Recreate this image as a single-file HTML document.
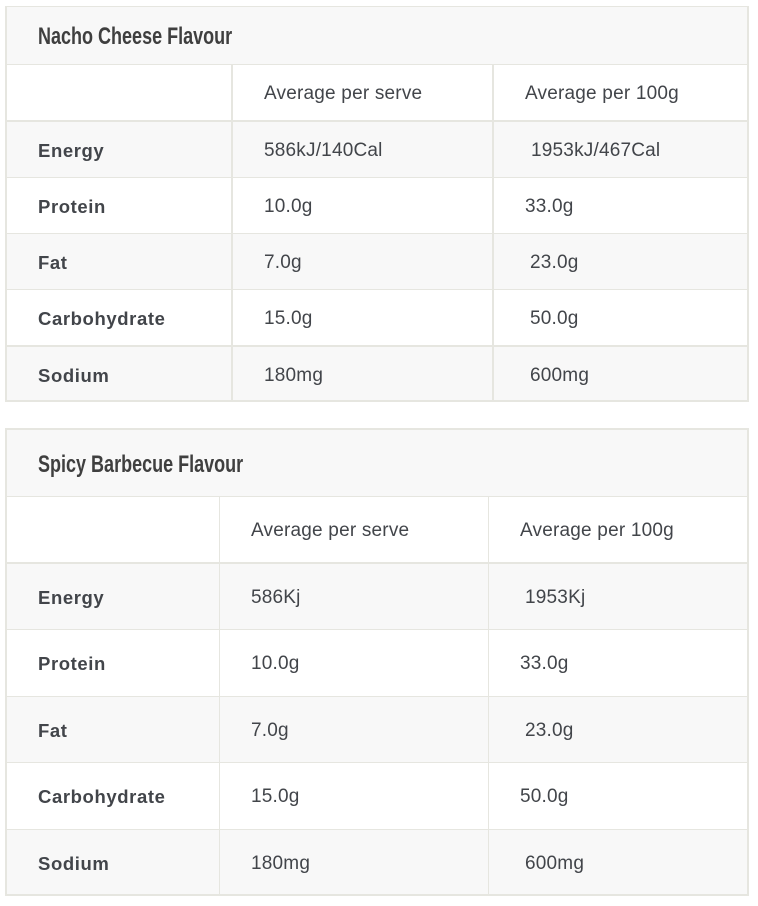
<!DOCTYPE html>
<html><head><meta charset="utf-8">
<style>
html,body{margin:0;padding:0;background:#fff;}
body{width:758px;height:906px;position:relative;overflow:hidden;font-family:"Liberation Sans",Arial,sans-serif;color:#42454a;}
.a{position:absolute;}
.bg{position:absolute;background:#f8f8f8;}
.l{position:absolute;background:#e6e6e0;}
.t{position:absolute;font-size:19px;letter-spacing:0.2px;white-space:pre;}
.b{font-weight:bold;font-size:18.5px;letter-spacing:0.6px;}
.h{position:absolute;font-weight:bold;font-size:24.5px;white-space:pre;transform:scaleX(0.735);transform-origin:0 50%;color:#3f3f3f;}
</style></head><body>
<!-- TABLE 1 -->
<div class="bg" style="left:5px;top:6px;width:744px;height:58px"></div>
<div class="bg" style="left:5px;top:121px;width:744px;height:56px"></div>
<div class="bg" style="left:5px;top:233px;width:744px;height:56px"></div>
<div class="bg" style="left:5px;top:345px;width:744px;height:57px"></div>
<div class="l" style="left:5px;top:6px;width:744px;height:1px"></div>
<div class="l" style="left:5px;top:6px;width:2px;height:396px"></div>
<div class="l" style="left:747px;top:6px;width:2px;height:396px"></div>
<div class="l" style="left:5px;top:400px;width:744px;height:2px"></div>
<div class="l" style="left:5px;top:64px;width:744px;height:1px"></div>
<div class="l" style="left:5px;top:120px;width:744px;height:2px"></div>
<div class="l" style="left:5px;top:177px;width:744px;height:1px"></div>
<div class="l" style="left:5px;top:233px;width:744px;height:1px"></div>
<div class="l" style="left:5px;top:289px;width:744px;height:1px"></div>
<div class="l" style="left:5px;top:345px;width:744px;height:2px"></div>
<div class="l" style="left:231px;top:64px;width:2px;height:338px"></div>
<div class="l" style="left:492px;top:64px;width:2px;height:338px"></div>

<div class="h" style="left:38px;top:7px;height:58px;line-height:60px">Nacho Cheese Flavour</div>
<div class="t" style="left:264px;top:65px;line-height:57px">Average per serve</div>
<div class="t" style="left:525px;top:65px;line-height:57px">Average per 100g</div>

<div class="t b" style="left:38px;top:122px;line-height:57px">Energy</div>
<div class="t" style="left:264px;top:122px;line-height:57px">586kJ/140Cal</div>
<div class="t" style="left:531px;top:122px;line-height:57px">1953kJ/467Cal</div>

<div class="t b" style="left:38px;top:178px;line-height:57px">Protein</div>
<div class="t" style="left:264px;top:178px;line-height:57px">10.0g</div>
<div class="t" style="left:525px;top:178px;line-height:57px">33.0g</div>

<div class="t b" style="left:38px;top:234px;line-height:57px">Fat</div>
<div class="t" style="left:264px;top:234px;line-height:57px">7.0g</div>
<div class="t" style="left:530px;top:234px;line-height:57px">23.0g</div>

<div class="t b" style="left:38px;top:290px;line-height:57px">Carbohydrate</div>
<div class="t" style="left:264px;top:290px;line-height:57px">15.0g</div>
<div class="t" style="left:530px;top:290px;line-height:57px">50.0g</div>

<div class="t b" style="left:38px;top:347px;line-height:57px">Sodium</div>
<div class="t" style="left:264px;top:347px;line-height:57px">180mg</div>
<div class="t" style="left:530px;top:347px;line-height:57px">600mg</div>

<!-- TABLE 2 -->
<div class="bg" style="left:5px;top:428px;width:744px;height:68px"></div>
<div class="bg" style="left:5px;top:562px;width:744px;height:67px"></div>
<div class="bg" style="left:5px;top:696px;width:744px;height:66px"></div>
<div class="bg" style="left:5px;top:829px;width:744px;height:67px"></div>
<div class="l" style="left:5px;top:428px;width:744px;height:2px"></div>
<div class="l" style="left:5px;top:428px;width:2px;height:468px"></div>
<div class="l" style="left:747px;top:428px;width:2px;height:468px"></div>
<div class="l" style="left:5px;top:894px;width:744px;height:2px"></div>
<div class="l" style="left:5px;top:496px;width:744px;height:1px"></div>
<div class="l" style="left:5px;top:562px;width:744px;height:2px"></div>
<div class="l" style="left:5px;top:629px;width:744px;height:1px"></div>
<div class="l" style="left:5px;top:696px;width:744px;height:1px"></div>
<div class="l" style="left:5px;top:762px;width:744px;height:1px"></div>
<div class="l" style="left:5px;top:829px;width:744px;height:1px"></div>
<div class="l" style="left:219px;top:496px;width:1px;height:400px"></div>
<div class="l" style="left:488px;top:496px;width:1px;height:400px"></div>

<div class="h" style="left:38px;top:430px;height:67px;line-height:70px">Spicy Barbecue Flavour</div>
<div class="t" style="left:251px;top:498px;line-height:66px">Average per serve</div>
<div class="t" style="left:520px;top:498px;line-height:66px">Average per 100g</div>

<div class="t b" style="left:38px;top:565px;line-height:66px">Energy</div>
<div class="t" style="left:251px;top:565px;line-height:66px">586Kj</div>
<div class="t" style="left:525px;top:565px;line-height:66px">1953Kj</div>

<div class="t b" style="left:38px;top:631px;line-height:66px">Protein</div>
<div class="t" style="left:251px;top:631px;line-height:66px">10.0g</div>
<div class="t" style="left:520px;top:631px;line-height:66px">33.0g</div>

<div class="t b" style="left:38px;top:698px;line-height:66px">Fat</div>
<div class="t" style="left:251px;top:698px;line-height:66px">7.0g</div>
<div class="t" style="left:525px;top:698px;line-height:66px">23.0g</div>

<div class="t b" style="left:38px;top:764px;line-height:66px">Carbohydrate</div>
<div class="t" style="left:251px;top:764px;line-height:66px">15.0g</div>
<div class="t" style="left:520px;top:764px;line-height:66px">50.0g</div>

<div class="t b" style="left:38px;top:831px;line-height:66px">Sodium</div>
<div class="t" style="left:251px;top:831px;line-height:66px">180mg</div>
<div class="t" style="left:525px;top:831px;line-height:66px">600mg</div>
</body></html>
